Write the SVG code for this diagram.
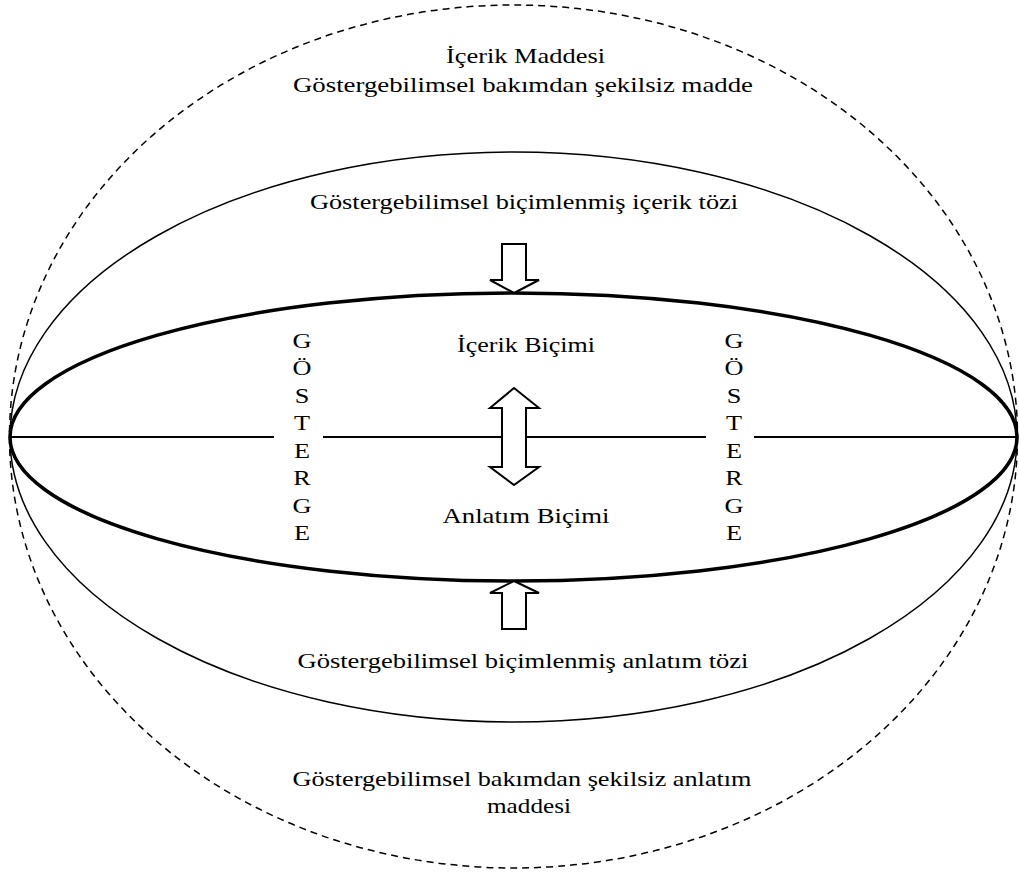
<svg xmlns="http://www.w3.org/2000/svg" width="1019" height="875" viewBox="0 0 1019 875">
<style>
text{font-family:"Liberation Serif","Times New Roman",serif;font-size:21px;fill:#000;text-anchor:middle}
.e{fill:none;stroke:#000}
.arr{fill:#fff;stroke:#000;stroke-width:2;stroke-linejoin:miter}
</style>
<rect width="1019" height="875" fill="#fff"/>
<g id="outer">
<ellipse class="e" cx="513.5" cy="436.5" rx="504" ry="431.5" stroke-width="1.5" stroke-dasharray="7,5"/>
<text x="525.5" y="63" textLength="159" lengthAdjust="spacingAndGlyphs">İçerik Maddesi</text>
<text x="523" y="92" textLength="460" lengthAdjust="spacingAndGlyphs">Göstergebilimsel bakımdan şekilsiz madde</text>
<text x="522" y="786" textLength="459" lengthAdjust="spacingAndGlyphs">Göstergebilimsel bakımdan şekilsiz anlatım</text>
<text x="529" y="813" textLength="84" lengthAdjust="spacingAndGlyphs">maddesi</text>
</g>
<g id="middle">
<ellipse class="e" cx="513.5" cy="437" rx="503.5" ry="285" stroke-width="1.5"/>
<text x="524" y="209" textLength="428" lengthAdjust="spacingAndGlyphs">Göstergebilimsel biçimlenmiş içerik tözi</text>
<text x="523" y="668" textLength="451" lengthAdjust="spacingAndGlyphs">Göstergebilimsel biçimlenmiş anlatım tözi</text>
</g>
<g id="inner">
<ellipse class="e" cx="513.5" cy="437" rx="503.5" ry="144" stroke-width="3.5"/>
<text x="526" y="352" textLength="138" lengthAdjust="spacingAndGlyphs">İçerik Biçimi</text>
<text x="526" y="523" textLength="167" lengthAdjust="spacingAndGlyphs">Anlatım Biçimi</text>
</g>
<g id="gosterge-left" transform="translate(302 0) scale(1.25 1)">
<text x="0" y="348">G</text><text x="0" y="375.5">Ö</text><text x="0" y="403">S</text><text x="0" y="430.5">T</text><text x="0" y="458">E</text><text x="0" y="485.5">R</text><text x="0" y="513">G</text><text x="0" y="540.5">E</text>
</g>
<g id="gosterge-right" transform="translate(734 0) scale(1.25 1)">
<text x="0" y="348">G</text><text x="0" y="375.5">Ö</text><text x="0" y="403">S</text><text x="0" y="430.5">T</text><text x="0" y="458">E</text><text x="0" y="485.5">R</text><text x="0" y="513">G</text><text x="0" y="540.5">E</text>
</g>
<g id="connectors" stroke="#000" stroke-width="2">
<line x1="10" y1="437" x2="274" y2="437"/>
<line x1="323" y1="437" x2="502" y2="437"/>
<line x1="526" y1="437" x2="706" y2="437"/>
<line x1="754" y1="437" x2="1017" y2="437"/>
<polygon class="arr" points="502,244 526,244 526,280 539,280 514,293 490,280 502,280"/>
<polygon class="arr" points="514,388 539,408 526,408 526,467 539,467 514,485 490,467 502,467 502,408 490,408"/>
<polygon class="arr" points="514,581 539,593 526,593 526,629 502,629 502,593 490,593"/>
</g>
</svg>
